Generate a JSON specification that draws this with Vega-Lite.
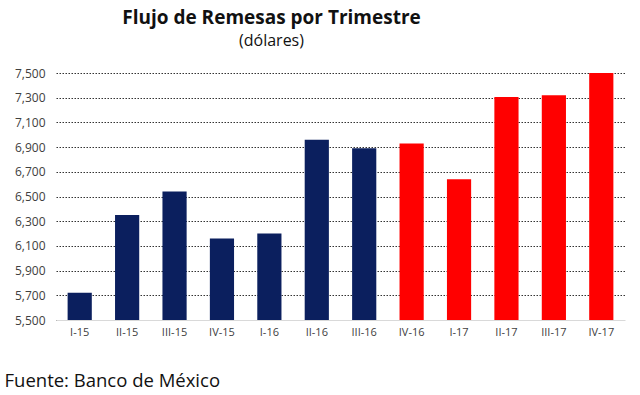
{
  "$schema": "https://vega.github.io/schema/vega-lite/v6.json",
  "width": 569,
  "height": 247,
  "autosize": {"type": "none"},
  "padding": {"left": 56, "top": 73, "right": 15, "bottom": 75},
  "background": "white",
  "title": {
    "text": "Flujo de Remesas por Trimestre",
    "subtitle": "(dólares)",
    "anchor": "middle",
    "dx": -69,
    "offset": 18,
    "font": "Open Sans",
    "fontSize": 19,
    "fontWeight": "bold",
    "color": "#111111",
    "subtitleFont": "Open Sans",
    "subtitleFontSize": 16,
    "subtitleColor": "#111111",
    "subtitlePadding": 5
  },
  "data": {
    "values": [
      {"trimestre": "I-15", "valor": 5720, "grupo": "2015-16"},
      {"trimestre": "II-15", "valor": 6350, "grupo": "2015-16"},
      {"trimestre": "III-15", "valor": 6540, "grupo": "2015-16"},
      {"trimestre": "IV-15", "valor": 6160, "grupo": "2015-16"},
      {"trimestre": "I-16", "valor": 6200, "grupo": "2015-16"},
      {"trimestre": "II-16", "valor": 6960, "grupo": "2015-16"},
      {"trimestre": "III-16", "valor": 6890, "grupo": "2015-16"},
      {"trimestre": "IV-16", "valor": 6930, "grupo": "2016-17"},
      {"trimestre": "I-17", "valor": 6640, "grupo": "2016-17"},
      {"trimestre": "II-17", "valor": 7305, "grupo": "2016-17"},
      {"trimestre": "III-17", "valor": 7320, "grupo": "2016-17"},
      {"trimestre": "IV-17", "valor": 7500, "grupo": "2016-17"}
    ]
  },
  "mark": {"type": "bar", "clip": true},
  "encoding": {
    "x": {
      "field": "trimestre",
      "type": "nominal",
      "sort": null,
      "scale": {"paddingInner": 0.49, "paddingOuter": 0.245},
      "axis": {
        "title": "Fuente: Banco de México",
        "titleFont": "Open Sans",
        "titleFontSize": 18.5,
        "titleFontWeight": "normal",
        "titleColor": "#111111",
        "titleAnchor": "start",
        "titleAlign": "left",
        "titleBaseline": "alphabetic",
        "titleX": -52,
        "titleY": 66,
        "labelAngle": 0,
        "labelFont": "Open Sans",
        "labelFontSize": 11,
        "labelColor": "#404040",
        "labelPadding": 6,
        "ticks": false,
        "domain": true,
        "domainColor": "#d9d9d9",
        "grid": false
      }
    },
    "y": {
      "field": "valor",
      "type": "quantitative",
      "scale": {"domain": [5500, 7500], "zero": false, "nice": false},
      "axis": {
        "title": null,
        "values": [5500, 5700, 5900, 6100, 6300, 6500, 6700, 6900, 7100, 7300, 7500],
        "format": ",.0f",
        "labelFont": "Open Sans",
        "labelFontSize": 12,
        "labelColor": "#404040",
        "labelPadding": 11,
        "ticks": false,
        "domain": false,
        "grid": true,
        "gridColor": "#333333",
        "gridDash": [1.5, 1.5],
        "gridWidth": 1
      }
    },
    "color": {
      "field": "grupo",
      "type": "nominal",
      "scale": {"domain": ["2015-16", "2016-17"], "range": ["#0b1f5e", "#ff0000"]},
      "legend": null
    }
  },
  "config": {"view": {"stroke": null}}
}
